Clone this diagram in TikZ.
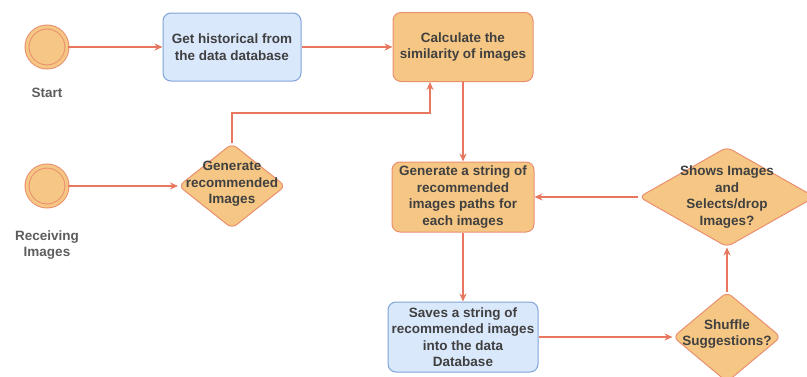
\documentclass[tikz,border=0pt]{standalone}
\usepackage{fontspec}
\setmainfont{Liberation Sans}
\usetikzlibrary{shapes.geometric,arrows.meta}

\definecolor{boxorange}{HTML}{F6C784}
\definecolor{edgeorange}{HTML}{EA8F6E}
\definecolor{lineorange}{HTML}{E8775F}
\definecolor{boxblue}{HTML}{DAE8FC}
\definecolor{edgeblue}{HTML}{7EA3D8}
\definecolor{txtgray}{HTML}{404040}

\begin{document}
\begin{tikzpicture}[>={Stealth[length=8pt,width=7pt]}, x=1pt, y=1pt,
  every node/.style={font=\fontsize{13.5}{16.5}\selectfont\bfseries, text=txtgray, align=center},
  event/.style={circle, draw=edgeorange, fill=boxorange, line width=1pt, double=boxorange, double distance=3pt, minimum size=40pt, inner sep=0pt},
  procblue/.style={rectangle, rounded corners=8pt, draw=edgeblue, fill=boxblue, line width=1pt, minimum width=138pt, minimum height=68pt, inner sep=2pt},
  procorange/.style={rectangle, rounded corners=8pt, draw=edgeorange, fill=boxorange, line width=1pt, minimum width=140pt, minimum height=69pt, inner sep=2pt},
  decision/.style={diamond, rounded corners=6pt, draw=edgeorange, fill=boxorange, line width=1pt, inner sep=0pt},
  flow/.style={->, draw=lineorange, line width=1.1pt}]
\useasboundingbox (0,0) rectangle (807,-376);

\node[event] (start) at (47,-47) {};
\node[below of=start, node distance=46pt, text=txtgray!85] (startlabel) {Start};
\node[procblue, right of=start, node distance=185pt] (gethist) {Get historical from\\the data database};
\node[procorange, right of=gethist, node distance=231pt] (calc) {Calculate the\\similarity of images};

\node[event, below of=start, node distance=139pt] (recv) {};
\node[below of=recv, node distance=59pt, text=txtgray!85] (recvlabel) {Receiving\\Images};
\node[decision, below of=gethist, node distance=139pt, minimum width=107pt, minimum height=85pt,
  label={[yshift=2pt]center:Generate\\recommended\\Images}] (genrec) {};

\node[procorange, below of=calc, node distance=150pt, minimum width=142pt, minimum height=70pt] (genstr) {Generate a string of\\recommended\\images paths for\\each images};
\node[procblue, below of=genstr, node distance=140pt, minimum width=150pt, minimum height=70pt] (saves) {Saves a string of\\recommended images\\into the data\\Database};
\node[decision, right of=genstr, node distance=264pt, minimum width=176pt, minimum height=100pt,
  label={center:Shows Images\\and\\Selects/drop\\Images?}] (shows) {};
\node[decision, below of=shows, node distance=140pt, minimum width=108pt, minimum height=90pt,
  label={[yshift=3pt]center:Shuffle\\Suggestions?}] (shuffle) {};

\draw[flow] (start) -- (gethist);
\draw[flow] (gethist) -- (calc);
\draw[flow] (recv) -- (genrec);
\draw[flow] (genrec.north) -- ++(0,30) -| ([xshift=-33pt]calc.south);
\draw[flow] (calc) -- (genstr);
\draw[flow] (shows) -- (genstr);
\draw[flow] (genstr) -- (saves);
\draw[flow] (saves) -- (shuffle);
\draw[flow] (shuffle) -- (shows);
\end{tikzpicture}
\end{document}
